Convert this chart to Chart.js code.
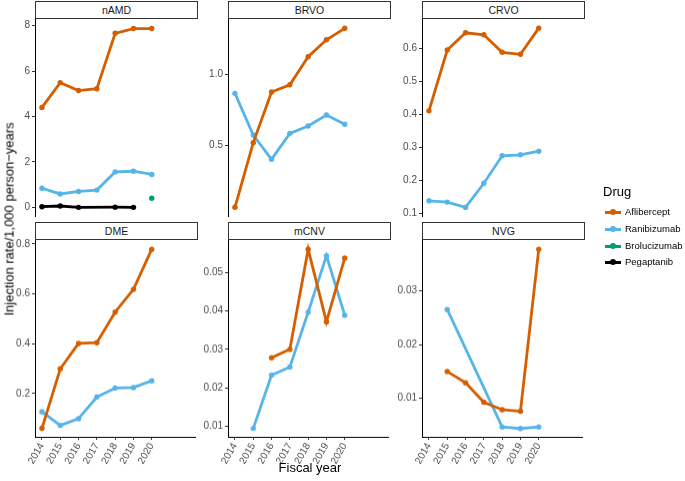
<!DOCTYPE html>
<html>
<head>
<meta charset="utf-8">
<script src="https://cdn.jsdelivr.net/npm/chart.js@4/dist/chart.umd.min.js"></script>
<style>
  html, body { margin: 0; padding: 0; background: #fff; }
  #root { position: relative; width: 685px; height: 481px; overflow: hidden; font-family: "Liberation Sans", Arial, sans-serif; }
  canvas { position: absolute; }
  .strip { position: absolute; box-sizing: border-box; border: 1px solid #333; background: #fff; color: #1a1a1a; font-size: 10.5px; text-align: center; }
  .txt { position: absolute; white-space: nowrap; color: #000; }
  .key { position: absolute; }
</style>
</head>
<body>
<div id="root"></div>
<script>
// ---------------- data ----------------
const years = [2014, 2015, 2016, 2017, 2018, 2019, 2020];
const drugs = ["Aflibercept", "Ranibizumab", "Brolucizumab", "Pegaptanib"];
const diseases = ["nAMD", "BRVO", "CRVO", "DME", "mCNV", "NVG"];

const namd_aflibercept  = [4.40, 5.49, 5.14, 5.22, 7.66, 7.87, 7.87];
const namd_ranibizumab  = [0.84, 0.59, 0.70, 0.76, 1.56, 1.59, 1.45];
const namd_brolucizumab = [null, null, null, null, null, null, 0.40];
const namd_pegaptanib   = [0.03, 0.06, 0.00, null, 0.01, 0.00, null];

const brvo_aflibercept  = [0.070, 0.521, 0.874, 0.925, 1.121, 1.239, 1.319];
const brvo_ranibizumab  = [0.865, 0.574, 0.405, 0.586, 0.637, 0.714, 0.649];

const crvo_aflibercept  = [0.410, 0.594, 0.646, 0.640, 0.587, 0.581, 0.660];
const crvo_ranibizumab  = [0.138, 0.134, 0.118, 0.191, 0.274, 0.277, 0.288];

const dme_aflibercept   = [0.060, 0.299, 0.401, 0.404, 0.527, 0.618, 0.779];
const dme_ranibizumab   = [0.127, 0.072, 0.099, 0.186, 0.222, 0.224, 0.251];

const mcnv_aflibercept  = [null, null, 0.0278, 0.0300, 0.0561, 0.0372, 0.0538];
const mcnv_ranibizumab  = [null, 0.0094, 0.0233, 0.0254, 0.0397, 0.0544, 0.0389];

const nvg_aflibercept   = [null, 0.0150, 0.0129, 0.0093, 0.0079, 0.0076, 0.0377];
const nvg_ranibizumab   = [null, 0.0265, null, null, 0.0047, 0.0044, 0.0047];

const namd_ticks = ["0", "2", "4", "6", "8"];
const brvo_ticks = ["0.5", "1.0"];
const crvo_ticks = ["0.1", "0.2", "0.3", "0.4", "0.5", "0.6"];
const dme_ticks  = ["0.2", "0.4", "0.6", "0.8"];
const mcnv_ticks = ["0.01", "0.02", "0.03", "0.04", "0.05"];
const nvg_ticks  = ["0.01", "0.02", "0.03"];

const xTitle = "Fiscal year";
const yTitle = "Injection rate/1,000 person\u2212years";
const legendTitle = "Drug";

// ---------------- styling / layout ----------------
const colors = { Aflibercept: "#D55E00", Ranibizumab: "#56B4E9", Brolucizumab: "#009E73", Pegaptanib: "#000000" };

const panels = [
  { name: "nAMD", series: { Aflibercept: namd_aflibercept, Ranibizumab: namd_ranibizumab, Brolucizumab: namd_brolucizumab, Pegaptanib: namd_pegaptanib }, ticks: namd_ticks, ymin: -0.38, ymax: 8.29, col: 0, row: 0 },
  { name: "BRVO", series: { Aflibercept: brvo_aflibercept, Ranibizumab: brvo_ranibizumab }, ticks: brvo_ticks, ymin: 0.009, ymax: 1.384, col: 1, row: 0 },
  { name: "CRVO", series: { Aflibercept: crvo_aflibercept, Ranibizumab: crvo_ranibizumab }, ticks: crvo_ticks, ymin: 0.092, ymax: 0.6877, col: 2, row: 0 },
  { name: "DME",  series: { Aflibercept: dme_aflibercept, Ranibizumab: dme_ranibizumab }, ticks: dme_ticks, ymin: 0.026, ymax: 0.816, col: 0, row: 1 },
  { name: "mCNV", series: { Aflibercept: mcnv_aflibercept, Ranibizumab: mcnv_ranibizumab }, ticks: mcnv_ticks, ymin: 0.0072, ymax: 0.0585, col: 1, row: 1 },
  { name: "NVG",  series: { Aflibercept: nvg_aflibercept, Ranibizumab: nvg_ranibizumab }, ticks: nvg_ticks, ymin: 0.00286, ymax: 0.0394, col: 2, row: 1 }
];

const colLeft = [35, 228, 422];
const plotW = 163;
const rowTop = [19, 240];
const plotH = [197, 196.5];
const stripTop = [1, 222];
const YW = 40;   // y-axis box width
const PAD = 10;  // vertical padding to absorb label overflow
const XH = 42;   // x-axis box height

const root = document.getElementById("root");

function addText(txt, css) {
  const d = document.createElement("div");
  d.className = "txt";
  d.textContent = txt;
  Object.assign(d.style, css);
  root.appendChild(d);
  return d;
}

panels.forEach(p => {
  const left = colLeft[p.col];
  const top = rowTop[p.row];
  const h = plotH[p.row];
  const bottomRow = p.row === 1;

  // strip
  const s = document.createElement("div");
  s.className = "strip";
  s.textContent = p.name;
  Object.assign(s.style, {
    left: left + "px", top: stripTop[p.row] + "px", width: plotW + "px",
    height: (top - stripTop[p.row]) + "px", lineHeight: (top - stripTop[p.row] - 2) + "px"
  });
  root.appendChild(s);

  const cv = document.createElement("canvas");
  const cw = YW + plotW;
  const ch = PAD + h + (bottomRow ? XH : PAD);
  cv.width = cw; cv.height = ch;
  cv.style.left = (left - YW) + "px";
  cv.style.top = (top - PAD) + "px";
  cv.style.width = cw + "px"; cv.style.height = ch + "px";
  root.appendChild(cv);

  const datasets = Object.keys(p.series).map(dr => ({
    label: dr,
    data: years.map((yr, i) => ({ x: yr, y: p.series[dr][i] })),
    borderColor: colors[dr],
    backgroundColor: colors[dr],
    borderWidth: 2.8,
    pointRadius: 2.7,
    pointBorderWidth: 0,
    pointHoverRadius: 2.7,
    spanGaps: true,
    tension: 0
  }));

  const tickVals = p.ticks.map(Number);

  new Chart(cv, {
    type: "line",
    data: { datasets },
    options: {
      responsive: false,
      animation: false,
      devicePixelRatio: 1,
      layout: { padding: { top: PAD, bottom: bottomRow ? 0 : PAD, left: 0, right: 0 } },
      plugins: { legend: { display: false }, tooltip: { enabled: false } },
      scales: {
        x: {
          type: "linear",
          display: bottomRow,
          min: 2013.62, max: 2022.38,
          afterBuildTicks: sc => { sc.ticks = years.map(v => ({ value: v })); },
          afterFit: sc => { if (bottomRow) sc.height = XH; },
          ticks: {
            autoSkip: false, minRotation: 60, maxRotation: 60, padding: 1,
            color: "#4d4d4d", font: { family: "Liberation Sans", size: 10 },
            callback: v => String(v)
          },
          grid: { drawOnChartArea: false, drawTicks: true, tickLength: 3, color: "#333" },
          border: { display: true, color: "#000", width: 1 }
        },
        y: {
          type: "linear",
          min: p.ymin, max: p.ymax,
          afterBuildTicks: sc => { sc.ticks = tickVals.map(v => ({ value: v })); },
          afterFit: sc => { sc.width = YW; },
          ticks: {
            padding: 2, color: "#4d4d4d", font: { family: "Liberation Sans", size: 10 },
            callback: (v) => { const i = tickVals.findIndex(t => Math.abs(t - v) < 1e-9); return i >= 0 ? p.ticks[i] : ""; }
          },
          grid: { drawOnChartArea: false, drawTicks: true, tickLength: 3, color: "#333" },
          border: { display: true, color: "#000", width: 1 }
        }
      }
    }
  });
});

// axis titles
addText(xTitle, { left: "0px", width: "620px", textAlign: "center", top: "460px", fontSize: "13px" });
addText(yTitle, { left: "9px", top: "219px", fontSize: "13px", transform: "translate(-50%,-50%) rotate(-90deg)" });

// legend
addText(legendTitle, { left: "603px", top: "184px", fontSize: "13px" });
const legY = [212, 229, 246, 262];
drugs.forEach((dr, i) => {
  const line = document.createElement("div");
  line.className = "key";
  Object.assign(line.style, { left: "605px", top: (legY[i] - 1.5) + "px", width: "16px", height: "3px", background: colors[dr] });
  root.appendChild(line);
  const dot = document.createElement("div");
  dot.className = "key";
  Object.assign(dot.style, { left: "610px", top: (legY[i] - 3) + "px", width: "6px", height: "6px", borderRadius: "50%", background: colors[dr] });
  root.appendChild(dot);
  addText(dr, { left: "625px", top: (legY[i] - 7) + "px", fontSize: "9.5px", lineHeight: "14px" });
});
</script>
</body>
</html>
